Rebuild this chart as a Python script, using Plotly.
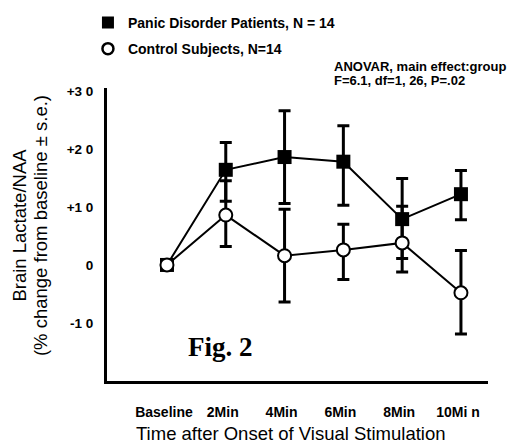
import plotly.graph_objects as go

# ---- data ----
time_min = [0, 2, 4, 6, 8, 10]
tick_text = ["Baseline", "2Min", "4Min", "6Min", "8Min", "10Mi n"]

panic_mean = [0, 16.4, 18.6, 17.8, 7.9, 12.2]
panic_se_up = [0, 4.7, 8.0, 6.2, 7.0, 4.1]
panic_se_down = [0, 5.4, 8.0, 7.5, 6.8, 4.4]

control_mean = [0, 8.6, 1.6, 2.6, 3.8, -4.8]
control_se_up = [0, 5.9, 8.0, 4.4, 6.3, 7.3]
control_se_down = [0, 5.4, 8.0, 5.1, 5.0, 7.1]

y_tickvals = [30, 20, 10, 0, -10]
y_ticktext = ["+3 0", "+2 0", "+1 0", "0", "-1 0"]

panic_name = "Panic Disorder Patients, N = 14"
control_name = "Control Subjects, N=14"
stats_lines = ["ANOVAR, main effect:group", "F=6.1, df=1, 26, P=.02"]
y_title_lines = ["Brain Lactate/NAA", "(% change from baseline ± s.e.)"]
x_title = "Time after Onset of Visual Stimulation"

SANS = "Liberation Sans, Arial, sans-serif"
SERIF = "Liberation Serif, Times New Roman, serif"

fig = go.Figure()

fig.add_trace(go.Scatter(
    x=time_min, y=panic_mean, mode="lines+markers", showlegend=False,
    line=dict(color="black", width=2),
    marker=dict(symbol="square", size=14, color="black"),
    error_y=dict(type="data", symmetric=False, array=panic_se_up,
                 arrayminus=panic_se_down, color="black", thickness=3, width=6),
))
fig.add_trace(go.Scatter(
    x=time_min, y=control_mean, mode="lines+markers", showlegend=False,
    line=dict(color="black", width=2),
    marker=dict(symbol="circle", size=13, color="white",
                line=dict(color="black", width=2)),
    error_y=dict(type="data", symmetric=False, array=control_se_up,
                 arrayminus=control_se_down, color="black", thickness=3, width=6),
))

# legend-only entries (marker only, no line)
fig.add_trace(go.Scatter(
    x=[None], y=[None], mode="markers", name=panic_name, legendgroup="a",
    marker=dict(symbol="square", size=12, color="black"),
))
fig.add_trace(go.Scatter(
    x=[None], y=[None], mode="markers", name=control_name, legendgroup="b",
    marker=dict(symbol="circle", size=11, color="white",
                line=dict(color="black", width=2.5)),
))

# the page body adds an 8px offset, so the figure is 8px smaller
fig.update_layout(
    width=518, height=436,
    margin=dict(l=99, r=38, t=80, b=63, autoexpand=False),
    paper_bgcolor="white", plot_bgcolor="white",
    font=dict(family=SANS, color="black"),
    showlegend=True,
    legend=dict(
        x=-0.05, xanchor="left", y=1.277, yanchor="top",
        font=dict(family=SANS, size=14, weight="bold", color="black"),
        tracegroupgap=5, bgcolor="rgba(0,0,0,0)",
    ),
    xaxis=dict(
        range=[-2.04, 10.92], showgrid=False, zeroline=False,
        showline=True, linecolor="black", linewidth=3, ticks="",
        tickvals=time_min, ticktext=tick_text,
        tickfont=dict(family=SANS, size=14, weight="bold", color="black"),
        ticklabelstandoff=16, ticklabelshift=-3,
    ),
    yaxis=dict(
        range=[-20, 30.5], showgrid=False, zeroline=False,
        showline=True, linecolor="black", linewidth=3, ticks="",
        tickvals=y_tickvals, ticktext=y_ticktext,
        tickfont=dict(family=SANS, size=13.5, weight="bold", color="black"),
        ticklabelstandoff=8,
    ),
    annotations=[
        dict(text=y_title_lines[0],
             xref="paper", yref="paper", x=-0.2297, y=0.532,
             xanchor="center", yanchor="middle", textangle=-90, showarrow=False,
             font=dict(family=SANS, size=18.5, color="black")),
        dict(text=y_title_lines[1],
             xref="paper", yref="paper", x=-0.176, y=0.532,
             xanchor="center", yanchor="middle", textangle=-90, showarrow=False,
             font=dict(family=SANS, size=18.5, color="black")),
        dict(text=x_title,
             xref="paper", yref="paper", x=0.484, y=-0.178,
             xanchor="center", yanchor="middle", showarrow=False,
             font=dict(family=SANS, size=18.5, color="black")),
        dict(text=stats_lines[0],
             xref="paper", yref="paper", x=0.5906, y=1.075,
             xanchor="left", yanchor="middle", align="left", showarrow=False,
             font=dict(family=SANS, size=13, weight="bold", color="black")),
        dict(text=stats_lines[1],
             xref="paper", yref="paper", x=0.5906, y=1.024,
             xanchor="left", yanchor="middle", align="left", showarrow=False,
             font=dict(family=SANS, size=13, weight="bold", color="black")),
        dict(text="Fig. 2",
             xref="paper", yref="paper", x=0.298, y=0.116,
             xanchor="center", yanchor="middle", showarrow=False,
             font=dict(family=SERIF, size=27, weight="bold", color="black")),
    ],
)

fig.write_html("out.html")
